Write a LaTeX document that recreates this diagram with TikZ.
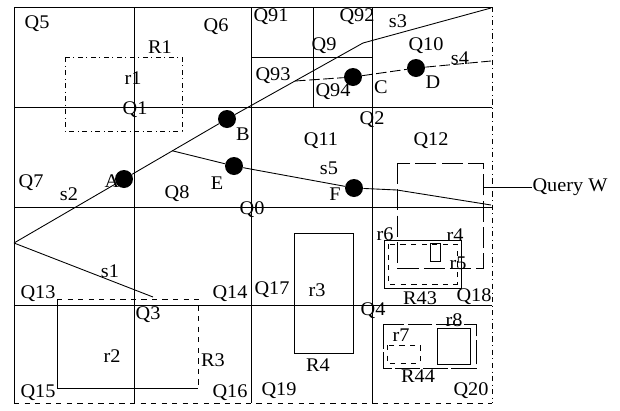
\documentclass[tikz,border=0pt]{standalone}
\usepackage{fontspec}
\setmainfont{Liberation Serif}[FakeStretch=1.05]
\usetikzlibrary{calc}

\begin{document}
\begin{tikzpicture}[x=0.02cm, y=-0.02cm, font=\fontsize{11}{13}\selectfont,
  gridline/.style={line width=0.5pt},
  trail/.style={line width=0.5pt},
  pt/.style={circle, fill=black, inner sep=0pt, minimum size=0.36cm},
  lbl/.style={inner sep=0pt}]
  \useasboundingbox (0,0) rectangle (620,410);

  % quadtree cells
  \draw[gridline] (14,403) -- (14,7) -- (492,7);
  \draw[gridline, dash dot] (492,7) -- (492,403);
  \draw[gridline, dashed] (14,403) -- (492,403);
  \foreach \x in {134,251,372}
    \draw[gridline] (\x,7) -- (\x,403);
  \foreach \y in {107,207,305}
    \draw[gridline] (14,\y) -- (492,\y);
  \draw[gridline] (313,7) -- (313,107);
  \draw[gridline] (251,57) -- (372,57);

  % regions
  \draw[dash dot] (65,57) rectangle (182,131);
  \draw (57,299) -- (57,388) -- (198,388);
  \draw[dashed] (57,299) -- (198,299) -- (198,388);
  \draw (294,233) rectangle (353,353);
  \draw[dashed, dash pattern=on 12pt off 3pt] (397,163) rectangle (483,268);
  \draw (384,240) rectangle (461,288);
  \draw[dashed] (388,244) rectangle (457,284);
  \draw (430,243) rectangle (440,261);
  \draw[dashed, dash pattern=on 14pt off 2pt] (383,324) rectangle (476,368);
  \draw[dashed] (387,345) rectangle (420,363);
  \draw (437,328) rectangle (470,364);

  \foreach \t/\x/\y in {Q0/252/210, Q1/135/110, Q2/372/120, Q3/148/315, Q4/373/311,
      Q5/37/24, Q6/216/27, Q7/31/183, Q8/177/194, Q9/324/46, Q10/426/46,
      Q11/321/141, Q12/431/141, Q13/38/294, Q14/230/294, Q15/38/393, Q16/230/393,
      Q17/272/290, Q18/474/297, Q19/279/391, Q20/471/391,
      Q91/271/17, Q92/357/17, Q93/273/76, Q94/333/92,
      R1/160/47, r1/133/78, r2/112/356, R3/213/360, r3/317/290, R4/318/365,
      r4/455/235, r5/458/263, r6/385/234, R43/420/298,
      r7/401/335, r8/454/320, R44/418/376,
      s1/110/271, s2/69/194, s3/398/21, s4/460/58, s5/329/168}
    \node[lbl] (\t) at (\x,\y) {\t};

  % moving objects
  \node[pt] (A) at (124,179) {};
  \node[pt] (B) at (227,119) {};
  \node[pt] (C) at (353,77) {};
  \node[pt] (D) at (416,68) {};
  \node[pt] (E) at (234,166) {};
  \node[pt] (F) at (354,188) {};
  \node[lbl] (Alab) at (112,181) {A};
  \node[lbl] (Blab) at (243,134) {B};
  \node[lbl] (Clab) at (381,87) {C};
  \node[lbl] (Dlab) at (433,82) {D};
  \node[lbl] (Elab) at (217,183) {E};
  \node[lbl] (Flab) at (335,194) {F};

  \coordinate (apex) at (14,243);
  \coordinate (kink) at (363,43);
  \coordinate (s3end) at (491,8);
  \coordinate (s1end) at (153,297);
  \coordinate (s5fork) at ($(A)!0.47!(B)$);
  \coordinate (s5bend) at (397,190);
  \coordinate (s5end) at (491,205);
  \coordinate (s4fork) at ($(B)!0.5!(kink)$);
  \coordinate (s4end) at (491,61);

  \draw[trail] (apex) -- (A) -- (B) -- (kink) -- (s3end);
  \draw[trail] (apex) -- (s1end);
  \draw[trail] (s5fork) -- (E) -- (F) -- (s5bend) -- (s5end);
  \draw[trail, dashed, dash pattern=on 6pt off 2pt] (s4fork) -- (C) -- (D) -- (s4end);

  % query window
  \node[lbl] (QW) at (570,187) {Query W};
  \coordinate (qwtick) at (483,187);
  \draw (qwtick) -- (QW.west);
\end{tikzpicture}
\end{document}
